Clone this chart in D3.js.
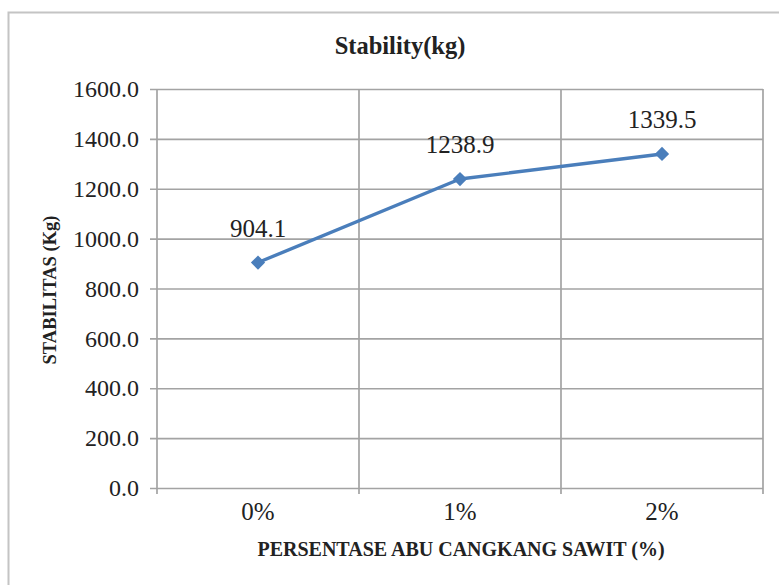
<!DOCTYPE html>
<html>
<head>
<meta charset="utf-8">
<script src="https://cdn.jsdelivr.net/npm/d3@7"></script>
<style>
  html, body { margin: 0; padding: 0; background: #fff; }
  svg { display: block; }
  svg text { font-family: "Liberation Serif", "Times New Roman", serif; fill: #222; }
</style>
</head>
<body>
<svg id="chart" width="779" height="585"></svg>
<script>
// Marshall stability versus palm-shell ash content
const categories = ["0%", "1%", "2%"];
const stability = [904.1, 1238.9, 1339.5];
const yTicks = [0, 200, 400, 600, 800, 1000, 1200, 1400, 1600];

const svg = d3.select("#chart");
const W = 779, H = 585;
const plot = { left: 157, right: 763, top: 89, bottom: 488 };
const serif = "'Liberation Serif', 'Times New Roman', serif";

// Outer chart frame
svg.append("rect")
  .attr("x", 8.5).attr("y", 12.5)
  .attr("width", W + 20).attr("height", H + 20)
  .attr("fill", "none").attr("stroke", "#c4c4c4").attr("stroke-width", 2);

const x = d3.scaleBand().domain(categories).range([plot.left, plot.right]).padding(0);
const y = d3.scaleLinear().domain([0, 1600]).range([plot.bottom, plot.top]);

const gridColor = "#a3a3a3";

// Horizontal gridlines with outside ticks on the value axis
const yAxis = d3.axisLeft(y).tickValues(yTicks).tickFormat(d3.format(".1f"))
  .tickSize(plot.left - plot.right).tickPadding(18);
const gy = svg.append("g").attr("transform", `translate(${plot.left},0)`).call(yAxis)
  .attr("font-family", serif).attr("font-size", 24);
gy.select(".domain").remove();
gy.selectAll(".tick line")
  .attr("x1", -7).attr("stroke", gridColor).attr("stroke-width", 1.7);
gy.selectAll(".tick text").attr("fill", "#2a2a2a");

// Vertical gridlines at category boundaries
const bounds = [plot.left].concat(categories.map(c => x(c) + x.bandwidth()));
svg.append("g").selectAll("line").data(bounds).join("line")
  .attr("x1", d => d).attr("x2", d => d)
  .attr("y1", plot.top).attr("y2", plot.bottom + 6)
  .attr("stroke", gridColor).attr("stroke-width", 1.7);

// Category axis labels
const xAxis = d3.axisBottom(x).tickSize(0).tickPadding(23);
const gx = svg.append("g").attr("transform", `translate(0,${plot.bottom})`).call(xAxis)
  .attr("font-family", serif).attr("font-size", 25);
gx.select(".domain").remove();
gx.selectAll(".tick text").attr("fill", "#2a2a2a").attr("dy", "0.35em");

// Series line and diamond markers
const pts = categories.map((c, i) => ({ c, v: stability[i] }));
const cx = d => x(d.c) + x.bandwidth() / 2;
const line = d3.line().x(cx).y(d => y(d.v));
svg.append("path").datum(pts)
  .attr("d", line).attr("fill", "none")
  .attr("stroke", "#4a7ebb").attr("stroke-width", 3.4)
  .attr("stroke-linejoin", "round");

svg.append("g").selectAll("path").data(pts).join("path")
  .attr("d", d3.symbol().type(d3.symbolDiamond2).size(130))
  .attr("transform", d => `translate(${cx(d)},${y(d.v)})`)
  .attr("fill", "#4a7ebb");

// Data labels
svg.append("g").selectAll("text").data(pts).join("text")
  .attr("x", cx)
  .attr("y", d => y(d.v) - 26)
  .attr("text-anchor", "middle")
  .attr("font-size", 25)
  .text(d => d.v.toFixed(1));

// Titles
svg.append("text").attr("x", 400).attr("y", 54)
  .attr("text-anchor", "middle").attr("font-size", 24.5).attr("font-weight", "bold")
  .text("Stability(kg)");

svg.append("text").attr("x", 461).attr("y", 556)
  .attr("text-anchor", "middle").attr("font-size", 20).attr("font-weight", "bold")
  .text("PERSENTASE ABU CANGKANG SAWIT (%)");

svg.append("text")
  .attr("transform", "translate(56,290) rotate(-90)")
  .attr("text-anchor", "middle").attr("font-size", 18.5).attr("font-weight", "bold")
  .text("STABILITAS (Kg)");
</script>
</body>
</html>
